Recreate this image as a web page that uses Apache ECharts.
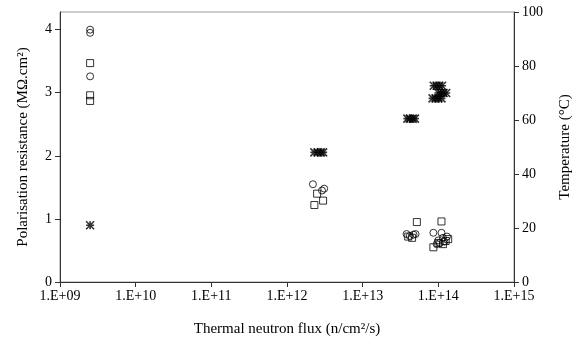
<!DOCTYPE html>
<html>
<head>
<meta charset="utf-8">
<script src="https://cdn.jsdelivr.net/npm/echarts@6/dist/echarts.min.js"></script>
<style>
  html, body { margin: 0; padding: 0; background: #fff; }
  #chart { width: 581px; height: 342px; }
</style>
</head>
<body>
<div id="chart"></div>
<script>
// polarisation resistance, open circles (MOhm.cm2)
const circleFlux = [2.5e9, 2.5e9, 2.5e9, 2.2e12, 2.9e12, 3.1e12, 3.8e13, 4.2e13, 4.7e13, 5.0e13, 8.6e13, 1.0e14, 1.05e14, 1.1e14, 1.15e14, 1.2e14, 1.3e14, 9.5e13]
const circleRes = [4.0, 3.95, 3.26, 1.55, 1.45, 1.48, 0.76, 0.73, 0.75, 0.76, 0.78, 0.66, 0.62, 0.78, 0.7, 0.64, 0.72, 0.6]

// polarisation resistance, open squares
const squareFlux = [2.5e9, 2.5e9, 2.5e9, 2.5e12, 2.3e12, 3.0e12, 4.0e13, 4.5e13, 5.2e13, 1.1e14, 8.6e13, 1.0e14, 1.15e14, 1.35e14, 1.25e14]
const squareRes = [3.47, 2.96, 2.87, 1.4, 1.22, 1.29, 0.72, 0.7, 0.95, 0.96, 0.55, 0.62, 0.6, 0.68, 0.65]

// temperature, star markers (right axis)
const tempFlux = [2.5e9, 2.3e12, 2.55e12, 2.8e12, 3.0e12, 3.9e13, 4.2e13, 4.6e13, 4.9e13, 8.7e13, 9.5e13, 1.03e14, 1.12e14, 1.0e14, 1.08e14, 1.17e14, 1.27e14, 8.4e13, 9.2e13, 1.0e14, 1.1e14]
const tempVal = [21, 48, 48, 48, 48, 60.5, 60.5, 60.5, 60.5, 72.7, 72.7, 72.7, 72.7, 70, 70, 70, 70, 68, 68, 68, 68]

const resTicks = [0, 1, 2, 3, 4]

const zip = (xs, ys) => xs.map((x, i) => [x, ys[i]])

const font = "Liberation Serif"
const axisColor = "#333"
const starPath = "path://M0,0L10,10M10,0L0,10M5,0L5,10M0,5L10,5"

const chart = echarts.init(document.getElementById("chart"))

chart.setOption({
  animation: false,
  textStyle: { fontFamily: font, color: "#000" },
  grid: {
    left: 60, right: 62, top: 12, bottom: 59,
    show: true, borderColor: "#999", borderWidth: 1
  },
  xAxis: {
    type: "log",
    logBase: 10,
    min: 1e9,
    max: 1e15,
    name: "Thermal neutron flux (n/cm²/s)",
    nameLocation: "middle",
    nameGap: 40,
    nameTextStyle: { fontFamily: font, fontSize: 15, color: "#000" },
    axisLine: { lineStyle: { color: axisColor } },
    axisTick: { length: 5, lineStyle: { color: axisColor } },
    axisLabel: {
      fontFamily: font, fontSize: 14, color: "#000", margin: 7,
      formatter: (v) => {
        const e = Math.round(Math.log10(v))
        return "1.E+" + (e < 10 ? "0" + e : e)
      }
    },
    splitLine: { show: false }
  },
  yAxis: [
    {
      type: "value",
      min: 0,
      max: 4.28,
      interval: 1,
      name: "Polarisation resistance (MΩ.cm²)",
      nameLocation: "middle",
      nameRotate: 90,
      nameGap: 29,
      nameTextStyle: { fontFamily: font, fontSize: 15, color: "#000" },
      axisLine: { show: true, lineStyle: { color: axisColor } },
      axisTick: { show: true, length: 5, customValues: resTicks, lineStyle: { color: axisColor } },
      axisLabel: {
        fontFamily: font, fontSize: 14, color: "#000", margin: 8,
        customValues: resTicks,
        formatter: (v) => (Number.isInteger(v) ? String(v) : "")
      },
      splitLine: { show: false }
    },
    {
      type: "value",
      min: 0,
      max: 100,
      interval: 20,
      position: "right",
      name: "Temperature (°C)",
      nameLocation: "middle",
      nameRotate: 90,
      nameGap: 44,
      nameTextStyle: { fontFamily: font, fontSize: 15, color: "#000" },
      axisLine: { show: true, lineStyle: { color: axisColor } },
      axisTick: { show: true, length: 5, lineStyle: { color: axisColor } },
      axisLabel: { fontFamily: font, fontSize: 14, color: "#000", margin: 8 },
      splitLine: { show: false }
    }
  ],
  series: [
    {
      name: "Resistance (circle)",
      type: "scatter",
      yAxisIndex: 0,
      symbol: "circle",
      symbolSize: 7,
      itemStyle: { color: "rgba(0,0,0,0)", borderColor: "#000", borderWidth: 1 },
      data: zip(circleFlux, circleRes)
    },
    {
      name: "Resistance (square)",
      type: "scatter",
      yAxisIndex: 0,
      symbol: "rect",
      symbolSize: 7,
      itemStyle: { color: "rgba(0,0,0,0)", borderColor: "#000", borderWidth: 1 },
      data: zip(squareFlux, squareRes)
    },
    {
      name: "Temperature",
      type: "scatter",
      yAxisIndex: 1,
      symbol: starPath,
      symbolSize: 8,
      itemStyle: { color: "rgba(0,0,0,0)", borderColor: "#000", borderWidth: 1.6 },
      data: zip(tempFlux, tempVal)
    }
  ]
})
</script>
</body>
</html>
